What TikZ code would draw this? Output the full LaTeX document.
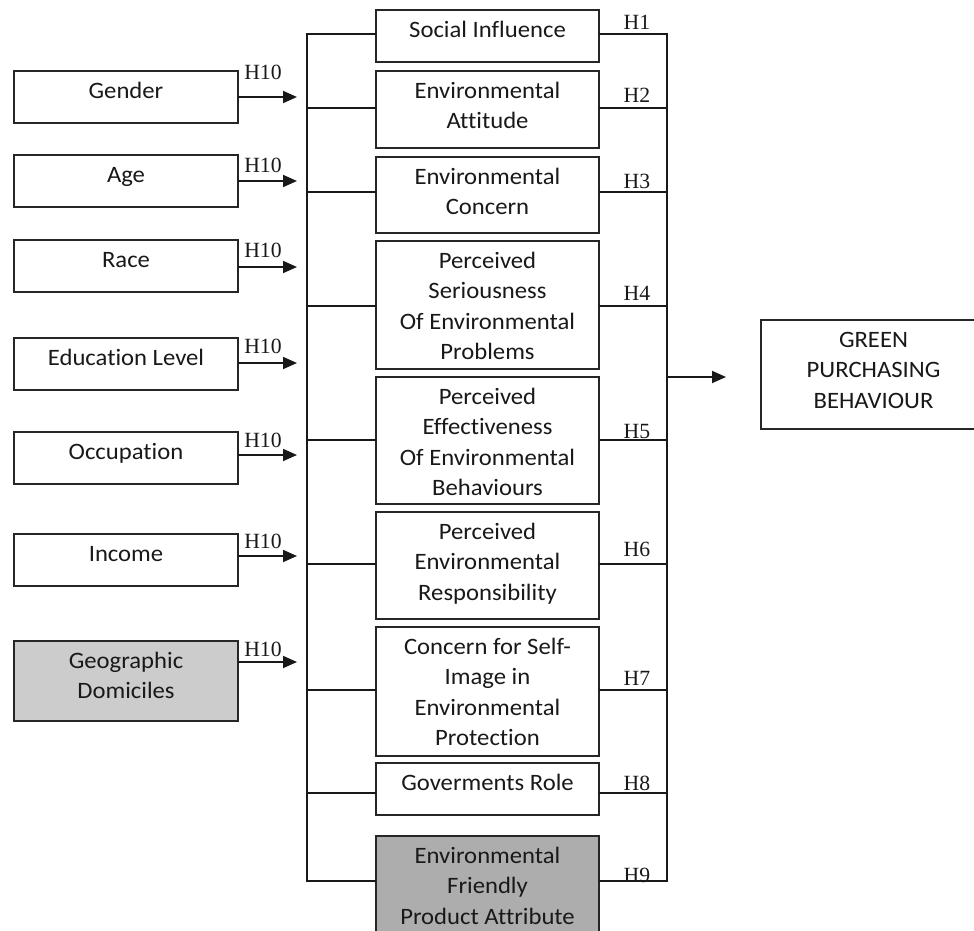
\documentclass[tikz,border=0pt]{standalone}
\usepackage{fontspec}
\setmainfont{Carlito}[FakeStretch=1.05, Ligatures=NoCommon]
\newfontfamily\hypfont{Liberation Serif}
\usetikzlibrary{arrows.meta}

% box with top-aligned text: name, x1, y1, x2, y2, extra style, text
\newcommand\textbox[7]{%
  \node[box, #6, minimum width={#4-#2}, minimum height={#5-#3}] (#1) at ({(#2+#4)/2},{(#3+#5)/2}) {};
  \node[txt] (#1-t) at (#1.north) {\rule{0pt}{27pt}#7};}

\begin{document}
\begin{tikzpicture}[x=1pt,y=-1pt,
  box/.style={draw=black!85, line width=1.3pt, rectangle, inner sep=0pt, outer sep=0pt},
  txt/.style={anchor=north, inner sep=0pt, align=center, text=black!90,
              font=\fontsize{23.5}{30.5}\selectfont},
  hyp/.style={anchor=base, inner sep=0pt, text=black!90,
              font=\hypfont\fontsize{21.7}{24}\selectfont},
  link/.style={line width=1.3pt, draw=black!90},
  arr/.style={line width=1.8pt, draw=black!90, -{Triangle[length=14pt,width=12pt]}}]

\useasboundingbox (0,0) rectangle (974,931);
\clip (0,0) rectangle (974,931);
\fill[white] (0,0) rectangle (974,931);

% demographic variables
\textbox{gen}{14}{71}{238}{123}{}{Gender}
\textbox{age}{14}{155}{238}{207}{}{Age}
\textbox{race}{14}{240}{238}{292}{}{Race}
\textbox{edu}{14}{338}{238}{390}{}{Education Level}
\textbox{occ}{14}{432}{238}{484}{}{Occupation}
\textbox{inc}{14}{534}{238}{586}{}{Income}
\textbox{geo}{14}{641}{238}{721}{fill=black!20}{Geographic\\Domiciles}

% predictors
\textbox{si}{376}{10}{599}{62}{}{Social Influence}
\textbox{ea}{376}{71}{599}{148}{}{Environmental\\Attitude}
\textbox{ec}{376}{157}{599}{233}{}{Environmental\\Concern}
\textbox{ps}{376}{241}{599}{369}{}{Perceived\\Seriousness\\Of Environmental\\Problems}
\textbox{pe}{376}{377}{599}{504}{}{Perceived\\Effectiveness\\Of Environmental\\Behaviours}
\textbox{pr}{376}{512}{599}{619}{}{Perceived\\Environmental\\Responsibility}
\textbox{cs}{376}{627}{599}{756}{}{Concern for Self-\\Image in\\Environmental\\Protection}
\textbox{gr}{376}{763}{599}{815}{}{Goverments Role}
\textbox{ef}{376}{836}{599}{934}{fill=black!32}{Environmental\\Friendly\\Product Attribute}

% outcome
\textbox{gpb}{761}{320}{986}{429}{}{GREEN\\PURCHASING\\BEHAVIOUR}

% H10 arrows from the demographic variables
\coordinate (gen-e) at (297,97);
\coordinate (age-e) at (297,181);
\coordinate (race-e) at (297,267);
\coordinate (edu-e) at (297,363);
\coordinate (occ-e) at (297,455);
\coordinate (inc-e) at (297,556);
\coordinate (geo-e) at (297,662);
\foreach \v in {gen,age,race,edu,occ,inc,geo}
  \draw[arr] (\v.east |- \v-e) -- (\v-e);

\node[hyp] (h10a) at (263,80) {H10};
\node[hyp] (h10b) at (263,172) {H10};
\node[hyp] (h10c) at (263,257) {H10};
\node[hyp] (h10d) at (263,353) {H10};
\node[hyp] (h10e) at (263,447) {H10};
\node[hyp] (h10f) at (263,548) {H10};
\node[hyp] (h10g) at (263,656) {H10};

% left and right buses
\coordinate (L1) at (307,34);  \coordinate (R1) at (667,34);
\coordinate (L2) at (307,108); \coordinate (R2) at (667,108);
\coordinate (L3) at (307,192); \coordinate (R3) at (667,192);
\coordinate (L4) at (307,306); \coordinate (R4) at (667,306);
\coordinate (L5) at (307,440); \coordinate (R5) at (667,440);
\coordinate (L6) at (307,564); \coordinate (R6) at (667,564);
\coordinate (L7) at (307,690); \coordinate (R7) at (667,690);
\coordinate (L8) at (307,793); \coordinate (R8) at (667,793);
\coordinate (L9) at (307,881); \coordinate (R9) at (667,881);

\draw[link] (si.west |- L1) -- (L1) -- (L9) -- (ef.west |- L9);
\draw[link] (si.east |- R1) -- (R1) -- (R9) -- (ef.east |- R9);
\foreach \b/\i in {ea/2,ec/3,ps/4,pe/5,pr/6,cs/7,gr/8} {
  \draw[link] (L\i) -- (\b.west |- L\i);
  \draw[link] (\b.east |- R\i) -- (R\i);
}

% hypothesis labels
\node[hyp] (h1) at (637,30) {H1};
\node[hyp] (h2) at (637,103) {H2};
\node[hyp] (h3) at (637,188) {H3};
\node[hyp] (h4) at (637,300) {H4};
\node[hyp] (h5) at (637,438) {H5};
\node[hyp] (h6) at (637,556) {H6};
\node[hyp] (h7) at (637,685) {H7};
\node[hyp] (h8) at (637,790) {H8};
\node[hyp] (h9) at (637,882) {H9};

% path to the outcome
\coordinate (Ro) at (667,377);
\coordinate (gpb-in) at (726,377);
\draw[arr] (Ro) -- (gpb-in);
\end{tikzpicture}
\end{document}
